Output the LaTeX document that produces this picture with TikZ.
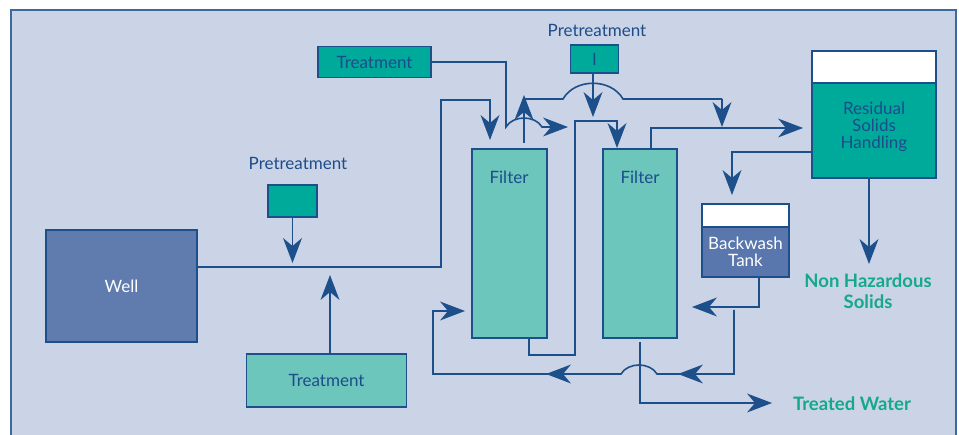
\documentclass[tikz,border=0pt]{standalone}
\usepackage{fontspec}
\setmainfont{Lato}
\usetikzlibrary{arrows.meta}
\definecolor{bgc}{HTML}{CBD3E6}
\definecolor{framec}{HTML}{3D6A9E}
\definecolor{linec}{HTML}{1D4F8A}
\definecolor{tealdk}{HTML}{00AA9A}
\definecolor{teallt}{HTML}{6CC6BC}
\definecolor{wellc}{HTML}{607BAD}
\definecolor{bwc}{HTML}{5A77AD}
\definecolor{txtc}{HTML}{1C4C8A}
\definecolor{greentxt}{HTML}{14A88F}
\tikzset{
  flow/.style={draw=linec, line width=1.6pt},
  arr/.style={flow, arrows={-Stealth[length=25pt,width=19pt,inset=8pt,line width=0pt]}}
}
\begin{document}
\begin{tikzpicture}[x=1pt,y=-1pt,
  box/.style={draw=linec, line width=1.5pt, inner sep=0pt, align=center, text=txtc, font=\fontsize{17}{17}\selectfont},
  lbl/.style={text=txtc, inner sep=0pt, font=\fontsize{17}{17}\selectfont},
  gtxt/.style={text=greentxt, inner sep=0pt, font=\fontsize{18.5}{21}\selectfont\bfseries}
]
\useasboundingbox (0,0) rectangle (959,435);
\fill[bgc] (11,10) rectangle (956,440);
\draw[framec, line width=1.5pt] (11,440) -- (11,10) -- (956,10) -- (956,440);

% boxes
\node[box, fill=wellc, minimum width=151pt, minimum height=112pt, text=white] (well) at (121.5,286) {Well};
\node[box, fill=tealdk, minimum width=49pt, minimum height=32pt] (pre1) at (292.5,201) {};
\node[lbl] (pre1lbl) at (298,163) {Pretreatment};
\node[box, fill=teallt, minimum width=160pt, minimum height=53pt] (treat1) at (326.5,380.5) {Treatment};
\node[box, fill=tealdk, minimum width=113pt, minimum height=31pt] (treat2) at (374.5,62) {Treatment};
\node[box, fill=tealdk, minimum width=48pt, minimum height=28pt] (pre2) at (594.5,59) {I};
\node[lbl] (pre2lbl) at (597,30) {Pretreatment};
\node[box, fill=teallt, minimum width=75pt, minimum height=189pt] (filt1) at (509.5,243.5) {};
\node[lbl] (f1lbl) at (509,177) {Filter};
\node[box, fill=teallt, minimum width=74pt, minimum height=189pt] (filt2) at (640,243.5) {};
\node[lbl] (f2lbl) at (640,177) {Filter};
\node[box, fill=white, minimum width=124pt, minimum height=32pt] (rtop) at (874,67) {};
\node[box, fill=tealdk, minimum width=124pt, minimum height=95pt] (resid) at (874,130.5) {};
\node[lbl, align=center] (rlbl) at (874,127) {Residual\\Solids\\Handling};
\node[box, fill=white, minimum width=87pt, minimum height=23pt] (bwtop) at (745.5,215.5) {};
\node[box, fill=bwc, minimum width=87pt, minimum height=50pt, text=white] (bw) at (745.5,252) {Backwash\\Tank};
\node[gtxt] (nh1) at (868,281) {Non Hazardous};
\node[gtxt] (nh2) at (868,302) {Solids};
\node[gtxt] (tw) at (852,404) {Treated Water};

% connectors
\draw[arr] (well.east |- 0,267) -- (441,267) -- (441,100) -- (490,100) -- (490,140);
\draw[arr] (pre1.south) -- (292.5,263);
\draw[arr] (treat1.north -| 330,0) -- (330,275);
\draw[arr] (treat2.east) -- (506,62) -- (506,127) .. controls (513,115) and (535,115) .. (542,127) -- (568,127);
\draw[arr] (524,143) -- (524,95);
\draw[flow] (524,99) -- (563,99) .. controls (575,78) and (611,78) .. (623,99) -- (722,99);
\draw[arr] (722,99) -- (722,127);
\draw[arr] (pre2.south -| 593,0) -- (593,117);
\draw[arr] (filt1.south -| 529,0) -- (529,355) -- (575,355) -- (575,121) -- (617,121) -- (617,148);
\draw[arr] (filt2.north -| 651,0) -- (651,128) -- (803,128);
\draw[arr] (resid.west |- 0,152) -- (732,152) -- (732,195);
\draw[arr] (resid.south -| 869,0) -- (869,264);
\draw[arr] (bw.south -| 759,0) -- (759,307) -- (692,307);
\draw[arr] (734,310) -- (734,374) -- (657,374) .. controls (650,362) and (628,362) .. (621,374) -- (433,374) -- (433,311) -- (465,311);
\draw[arr] (706,374) -- (678,374);
\draw[arr] (574,374) -- (546,374);
\draw[arr] (640,342) -- (640,403) -- (772,403);
\end{tikzpicture}
\end{document}
